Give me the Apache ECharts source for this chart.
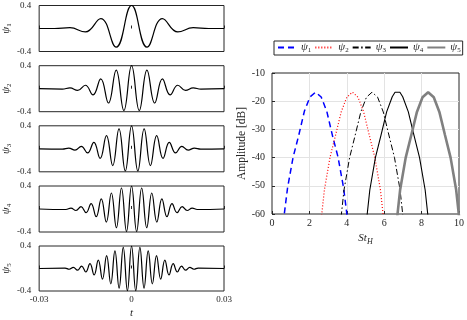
<!DOCTYPE html>
<html>
<head>
<meta charset="utf-8">
<script src="https://cdn.jsdelivr.net/npm/echarts@6/dist/echarts.min.js"></script>
<style>
html, body { margin: 0; padding: 0; background: #fff; }
#main { width: 467px; height: 320px; }
</style>
</head>
<body>
<div id="main"></div>
<script>
// wavelets in time (t in s) (extrema)
const tPsi1 = [-0.03, -0.025, -0.02, -0.015, -0.01, -0.005, 0, 0.005, 0.01, 0.015, 0.02, 0.025, 0.03]
const psi1 = [0, 0, 0.014, -0.06, 0.172, -0.324, 0.4, -0.324, 0.172, -0.06, 0.014, 0, 0]

const tPsi2 = [-0.03, -0.0225, -0.02, -0.0175, -0.015, -0.0125, -0.01, -0.0075, -0.005, -0.0025, 0,
    0.0025, 0.005, 0.0075, 0.01, 0.0125, 0.015, 0.0175, 0.02, 0.0225, 0.03]
const psi2 = [0, -0.006, 0.014, -0.03, 0.06, -0.107, 0.172, -0.249, 0.324, -0.379, 0.4,
    -0.379, 0.324, -0.249, 0.172, -0.107, 0.06, -0.03, 0.014, -0.006, 0]

const tPsi3 = [-0.03, -0.02244, -0.0204, -0.01836, -0.01632, -0.01428, -0.01224, -0.0102, -0.00816, -0.00612, -0.00408, -0.00204, 0,
    0.00204, 0.00408, 0.00612, 0.00816, 0.0102, 0.01224, 0.01428, 0.01632, 0.01836, 0.0204, 0.02244, 0.03]
const psi3 = [0, -0.006, 0.012, -0.023, 0.042, -0.072, 0.113, -0.166, 0.228, -0.292, 0.348, -0.386, 0.4,
    -0.386, 0.348, -0.292, 0.228, -0.166, 0.113, -0.072, 0.042, -0.023, 0.012, -0.006, 0]

const tPsi4 = [-0.03, -0.02132, -0.01968, -0.01804, -0.0164, -0.01476, -0.01312, -0.01148, -0.00984, -0.0082, -0.00656, -0.00492, -0.00328, -0.00164, 0,
    0.00164, 0.00328, 0.00492, 0.00656, 0.0082, 0.00984, 0.01148, 0.01312, 0.01476, 0.0164, 0.01804, 0.01968, 0.02132, 0.03]
const psi4 = [0, -0.009, 0.015, -0.026, 0.041, -0.064, 0.094, -0.132, 0.177, -0.227, 0.278, -0.326, 0.365, -0.391, 0.4,
    -0.391, 0.365, -0.326, 0.278, -0.227, 0.177, -0.132, 0.094, -0.064, 0.041, -0.026, 0.015, -0.009, 0]

const tPsi5 = [-0.03, -0.0216, -0.02025, -0.0189, -0.01755, -0.0162, -0.01485, -0.0135, -0.01215, -0.0108, -0.00945, -0.0081, -0.00675, -0.0054, -0.00405, -0.0027, -0.00135, 0,
    0.00135, 0.0027, 0.00405, 0.0054, 0.00675, 0.0081, 0.00945, 0.0108, 0.01215, 0.0135, 0.01485, 0.0162, 0.01755, 0.0189, 0.02025, 0.0216, 0.03]
const psi5 = [0, 0.008, -0.013, 0.02, -0.03, 0.044, -0.062, 0.086, -0.115, 0.15, -0.188, 0.23, -0.272, 0.313, -0.348, 0.376, -0.394, 0.4,
    -0.394, 0.376, -0.348, 0.313, -0.272, 0.23, -0.188, 0.15, -0.115, 0.086, -0.062, 0.044, -0.03, 0.02, -0.013, 0.008, 0]

// spectra, St_H vs amplitude in dB
const stPsi1 = [0.53, 0.83, 1.13, 1.43, 1.73, 2.03, 2.33, 2.63, 2.93, 3.23, 3.53, 3.83, 4.13]
const ampPsi1 = [-66.8, -50.8, -39.8, -32.1, -23.6, -18.5, -16.8, -18.5, -23.6, -32.1, -39.8, -50.8, -66.8]
const stPsi2 = [2.5, 2.8, 3.1, 3.4, 3.7, 4.0, 4.3, 4.6, 4.9, 5.2, 5.5, 5.8, 6.1]
const ampPsi2 = [-70, -51.5, -40, -32, -23.8, -18.6, -16.8, -18.6, -23.8, -32, -40, -51.5, -70]
const stPsi3 = [3.55, 3.85, 4.15, 4.45, 4.75, 5.05, 5.35, 5.65, 5.95, 6.25, 6.55, 6.85, 7.15]
const ampPsi3 = [-70, -51.5, -40, -32, -23.8, -18.6, -16.8, -18.6, -23.8, -32, -40, -51.5, -70]
const stPsi4 = [4.93, 5.23, 5.53, 5.83, 6.13, 6.43, 6.58, 6.84, 6.99, 7.29, 7.59, 7.89, 8.19, 8.49]
const ampPsi4 = [-70, -51.5, -40, -32, -23.8, -18.4, -16.8, -16.8, -18.4, -23.8, -32, -40, -51.5, -70]
const stPsi5 = [6.55, 6.85, 7.15, 7.45, 7.75, 8.05, 8.35, 8.65, 8.95, 9.25, 9.55, 9.85, 10.15]
const ampPsi5 = [-70, -51.5, -40, -32, -23.8, -18.6, -16.8, -18.6, -23.8, -32, -40, -51.5, -70]

const seriesNames = ['ψ1', 'ψ2', 'ψ3', 'ψ4', 'ψ5']
const xTicksLeft = [-0.03, 0, 0.03]

const serif = 'Liberation Serif'
const ink = '#262626'
const subRich = {
    g: { fontFamily: serif, fontStyle: 'italic', fontSize: 11, color: ink },
    s: { fontFamily: serif, fontSize: 7, color: ink, verticalAlign: 'bottom', padding: [0, 0, -1, 0] },
    i: { fontFamily: serif, fontStyle: 'italic', fontSize: 11, color: ink },
    h: { fontFamily: serif, fontStyle: 'italic', fontSize: 8, color: ink, verticalAlign: 'bottom', padding: [0, 0, -2, 0] }
}

const pair = (xs, ys) => xs.map((x, i) => [x, ys[i]])
const waves = [[tPsi1, psi1], [tPsi2, psi2], [tPsi3, psi3], [tPsi4, psi4], [tPsi5, psi5]]
const spectra = [[stPsi1, ampPsi1], [stPsi2, ampPsi2], [stPsi3, ampPsi3], [stPsi4, ampPsi4], [stPsi5, ampPsi5]]
const specStyles = [
    { color: '#0000ff', width: 1.5, type: [6, 4] },
    { color: '#ff0000', width: 1.2, type: [1, 2] },
    { color: '#000000', width: 1, type: [6, 2.5, 1.5, 2.5] },
    { color: '#000000', width: 1.1, type: 'solid' },
    { color: '#808080', width: 2.6, type: 'solid' }
]

const panelTops = [5.5, 65.7, 125.8, 186, 246]

let grids = [], xAxes = [], yAxes = [], series = []
panelTops.forEach((top, k) => {
    let last = k === panelTops.length - 1
    grids.push({ left: 36, width: 188, top: top, height: 46, show: true, borderColor: ink, borderWidth: 1 })
    xAxes.push({
        gridIndex: k, type: 'value', min: xTicksLeft[0], max: xTicksLeft[2], interval: 0.03,
        axisLine: { show: false },
        axisTick: { show: true, inside: true, length: 3, lineStyle: { color: ink } },
        splitLine: { show: false },
        axisLabel: { show: last, color: ink, fontFamily: serif, fontSize: 9, margin: 4 },
        name: last ? 't' : '', nameLocation: 'middle', nameGap: 17,
        nameTextStyle: { fontFamily: serif, fontStyle: 'italic', fontSize: 11, color: ink }
    })
    yAxes.push({
        gridIndex: k, type: 'value', min: -0.4, max: 0.4, interval: 0.4,
        axisLine: { show: false }, axisTick: { show: false }, splitLine: { show: false },
        axisLabel: {
            color: ink, fontFamily: serif, fontSize: 9, margin: 8,
            formatter: v => (v === 0 ? '' : String(v))
        },
        name: '{g|ψ}{s|' + (k + 1) + '}', nameLocation: 'middle', nameRotate: 90, nameGap: 21,
        nameTextStyle: { rich: subRich }
    })
    series.push({
        name: 'w' + (k + 1), type: 'line', xAxisIndex: k, yAxisIndex: k,
        data: pair(waves[k][0], waves[k][1]), smooth: 0.45, showSymbol: false, symbol: 'none',
        lineStyle: { color: '#000', width: 1.2 }, silent: true
    })
})

// spectrum panel
grids.push({ left: 272, right: 8, top: 73, height: 141, show: true, borderColor: ink, borderWidth: 1 })
xAxes.push({
    gridIndex: 5, type: 'value', min: 0, max: 10, interval: 2,
    axisLine: { show: false },
    axisTick: { show: true, inside: true, length: 3, lineStyle: { color: ink } },
    splitLine: { show: true, showMinLine: false, showMaxLine: false, lineStyle: { color: '#e3e3e3', width: 1 } },
    axisLabel: { color: ink, fontFamily: serif, fontSize: 10, margin: 4 },
    name: '{i|St}{h|H}', nameLocation: 'middle', nameGap: 19,
    nameTextStyle: { rich: subRich }
})
yAxes.push({
    gridIndex: 5, type: 'value', min: -60, max: -10, interval: 10,
    axisLine: { show: false },
    axisTick: { show: true, inside: true, length: 3, lineStyle: { color: ink } },
    splitLine: { show: true, showMinLine: false, showMaxLine: false, lineStyle: { color: '#e3e3e3', width: 1 } },
    axisLabel: { color: ink, fontFamily: serif, fontSize: 10, margin: 7 },
    name: 'Amplitude [dB]', nameLocation: 'middle', nameRotate: 90, nameGap: 24,
    nameTextStyle: { fontFamily: serif, fontSize: 11.5, color: ink }
})
spectra.forEach((sp, k) => {
    series.push({
        name: seriesNames[k], type: 'line', xAxisIndex: 5, yAxisIndex: 5,
        data: pair(sp[0], sp[1]), showSymbol: false, symbol: 'none', clip: true,
        lineStyle: specStyles[k], color: specStyles[k].color, silent: true
    })
})

let chart = echarts.init(document.getElementById('main'), null, { renderer: 'canvas' })
chart.setOption({
    animation: false,
    backgroundColor: '#fff',
    grid: grids,
    xAxis: xAxes,
    yAxis: yAxes,
    legend: {
        data: seriesNames, left: 274, top: 41, width: 192,
        orient: 'horizontal', itemWidth: 18, itemHeight: 10, itemGap: 3,
        borderColor: ink, borderWidth: 1, padding: [1, 2, 1, 3],
        itemStyle: { opacity: 0, borderWidth: 0 },
        formatter: name => '{g|ψ}{s|' + name.slice(1) + '}',
        textStyle: { rich: subRich }
    },
    series: series
})
</script>
</body>
</html>
